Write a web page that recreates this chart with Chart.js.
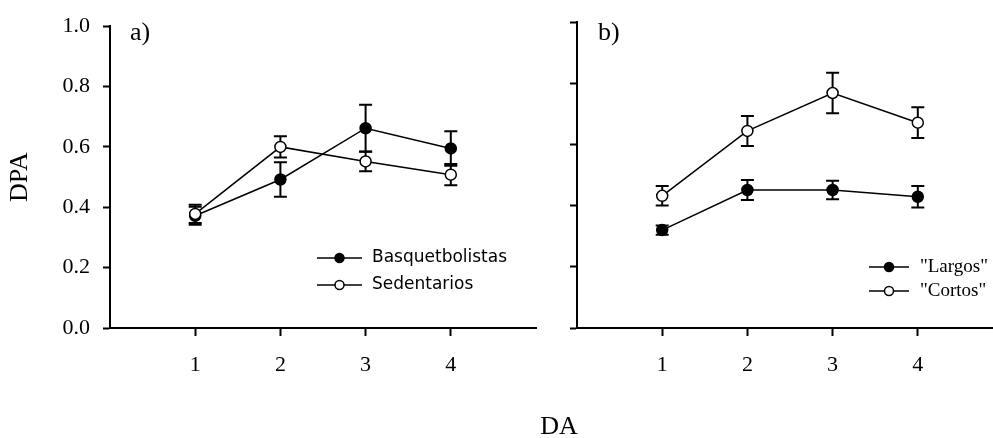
<!DOCTYPE html>
<html><head><meta charset="utf-8">
<script src="https://cdn.jsdelivr.net/npm/chart.js@4"></script>
<style>
html,body{margin:0;padding:0;overflow:hidden;background:#fff;width:993px;height:438px;}
#wrap{position:relative;width:993px;height:438px;overflow:hidden;background:#fff;}
canvas{position:absolute;left:0;top:0;}
</style></head><body>
<div id="wrap">
<canvas id="ca" width="993" height="438"></canvas>
<canvas id="cb" width="1010" height="438"></canvas>
</div>
<script>
// ---- data ----
const daTicks = [1, 2, 3, 4];
const dpaTicks = [0, 0.2, 0.4, 0.6, 0.8, 1.0];
const basquet = [0.372, 0.492, 0.662, 0.595];
const basquetErr = [0.03, 0.057, 0.078, 0.057];
const sedent = [0.378, 0.600, 0.552, 0.508];
const sedentErr = [0.03, 0.035, 0.033, 0.035];
const largos = [0.320, 0.451, 0.451, 0.429];
const largosErr = [0.015, 0.033, 0.030, 0.035];
const cortos = [0.432, 0.644, 0.768, 0.671];
const cortosErr = [0.032, 0.049, 0.066, 0.050];
const seriesNamesA = ['Basquetbolistas', 'Sedentarios'];
const seriesNamesB = ['"Largos"', '"Cortos"'];
const panelLabels = ['a)', 'b)'];
const xTitle = 'DA';
const yTitle = 'DPA';

const SERIF = '"Liberation Serif", "Times New Roman", serif';
const SANS = '"DejaVu Sans", Verdana, sans-serif';
const Y_BOT = 328;

function pts(vals){ return daTicks.map((x,i)=>({x:x, y:vals[i]})); }

const errorBars = {
  id:'errorBars',
  beforeDatasetsDraw(chart){
    const ctx = chart.ctx, xs = chart.scales.x, ys = chart.scales.y;
    ctx.save(); ctx.strokeStyle = '#000'; ctx.lineWidth = 2;
    chart.data.datasets.forEach(ds=>{
      ds.data.forEach((p,i)=>{
        const e = ds.errors[i];
        const px = xs.getPixelForValue(p.x);
        const y1 = ys.getPixelForValue(p.y + e), y2 = ys.getPixelForValue(p.y - e);
        ctx.beginPath();
        ctx.moveTo(px, y1); ctx.lineTo(px, y2);
        ctx.moveTo(px-6.5, y1); ctx.lineTo(px+6.5, y1);
        ctx.moveTo(px-6.5, y2); ctx.lineTo(px+6.5, y2);
        ctx.stroke();
      });
    });
    ctx.restore();
  }
};

const panelLegend = {
  id:'panelLegend',
  afterDraw(chart, args, o){
    const ctx = chart.ctx; ctx.save();
    chart.data.datasets.forEach((ds,i)=>{
      const y = o.y + i*o.dy;
      ctx.strokeStyle = '#000'; ctx.lineWidth = 1.5;
      ctx.beginPath(); ctx.moveTo(o.x, y); ctx.lineTo(o.x + o.len, y); ctx.stroke();
      ctx.beginPath(); ctx.arc(o.x + o.len/2, y, o.r, 0, Math.PI*2);
      ctx.fillStyle = ds.pointBackgroundColor; ctx.fill(); ctx.stroke();
      ctx.fillStyle = '#000'; ctx.font = o.font; ctx.textBaseline = 'middle'; ctx.textAlign = 'left';
      ctx.fillText(ds.label, o.textX, y);
    });
    ctx.restore();
  }
};

const panelText = {
  id:'panelText',
  afterDraw(chart, args, o){
    const ctx = chart.ctx; ctx.save();
    ctx.fillStyle = '#000'; ctx.textBaseline = 'alphabetic';
    ctx.font = '26px ' + SERIF; ctx.textAlign = 'left';
    ctx.fillText(o.label, o.lx, o.ly);
    if (o.xTitle) {
      ctx.font = '26px ' + SERIF; ctx.textAlign = 'center';
      ctx.fillText(o.xTitle, o.tx, o.ty);
    }
    ctx.restore();
  }
};

function makeScales(showY, yWidth){
  return {
    x: {
      type:'linear', min:0, max:5,
      afterBuildTicks: s => { s.ticks = daTicks.map(v=>({value:v})); },
      afterFit: s => { s.height = 438 - Y_BOT; },
      grid:{display:true, drawOnChartArea:false, drawTicks:true, tickLength:8, tickColor:'#000', tickWidth:2},
      border:{display:true, color:'#000', width:2},
      ticks:{color:'#000', font:{family:SERIF, size:22}, padding:16, maxRotation:0, autoSkip:false, callback:v=>String(v)}
    },
    y: {
      type:'linear', min:0, max:1,
      afterBuildTicks: s => { s.ticks = dpaTicks.map(v=>({value:v})); },
      afterFit: s => { s.width = yWidth; },
      grid:{display:true, drawOnChartArea:false, drawTicks:true, tickLength:7, tickColor:'#000', tickWidth:2},
      border:{display:true, color:'#000', width:2},
      ticks:{display:showY, color:'#000', font:{family:SERIF, size:22}, padding:13, callback:v=>Number(v).toFixed(1)},
      title:{display:showY, text:yTitle, color:'#000', font:{family:SERIF, size:26}, padding:{top:5, bottom:0}}
    }
  };
}

function ds(label, vals, errs, filled, order){
  return {
    label:label, data:pts(vals), errors:errs, order:order,
    borderColor:'#000', borderWidth:1.5, tension:0, showLine:true,
    pointRadius:5.5, pointHoverRadius:5.5, pointBorderWidth:1.5,
    pointBorderColor:'#000', pointBackgroundColor: filled ? '#000' : '#fff'
  };
}

Chart.defaults.animation = false;

new Chart(document.getElementById('ca'), {
  type:'line',
  data:{datasets:[
    ds(seriesNamesA[0], basquet, basquetErr, true, 2),
    ds(seriesNamesA[1], sedent, sedentErr, false, 1)
  ]},
  options:{
    responsive:false, devicePixelRatio:1, animation:false,
    layout:{padding:{left:0, top:22, right:993-536, bottom:0}},
    scales: makeScales(true, 110),
    plugins:{
      legend:{display:false}, tooltip:{enabled:false},
      panelLegend:{x:317, y:258, dy:27, len:45, r:4.5, textX:372, font:'17px ' + SANS},
      panelText:{label:panelLabels[0], lx:130, ly:40, xTitle:xTitle, tx:559, ty:434}
    }
  },
  plugins:[errorBars, panelLegend, panelText]
});

new Chart(document.getElementById('cb'), {
  type:'line',
  data:{datasets:[
    ds(seriesNamesB[0], largos, largosErr, true, 2),
    ds(seriesNamesB[1], cortos, cortosErr, false, 1)
  ]},
  options:{
    responsive:false, devicePixelRatio:1, animation:false,
    layout:{padding:{left:567, top:22, right:1010-1003, bottom:0}},
    scales: makeScales(false, 10),
    plugins:{
      legend:{display:false}, tooltip:{enabled:false},
      panelLegend:{x:869, y:267, dy:24, len:40, r:4.5, textX:920, font:'19px ' + SERIF},
      panelText:{label:panelLabels[1], lx:598, ly:40}
    }
  },
  plugins:[errorBars, panelLegend, panelText]
});
</script>
</body></html>
